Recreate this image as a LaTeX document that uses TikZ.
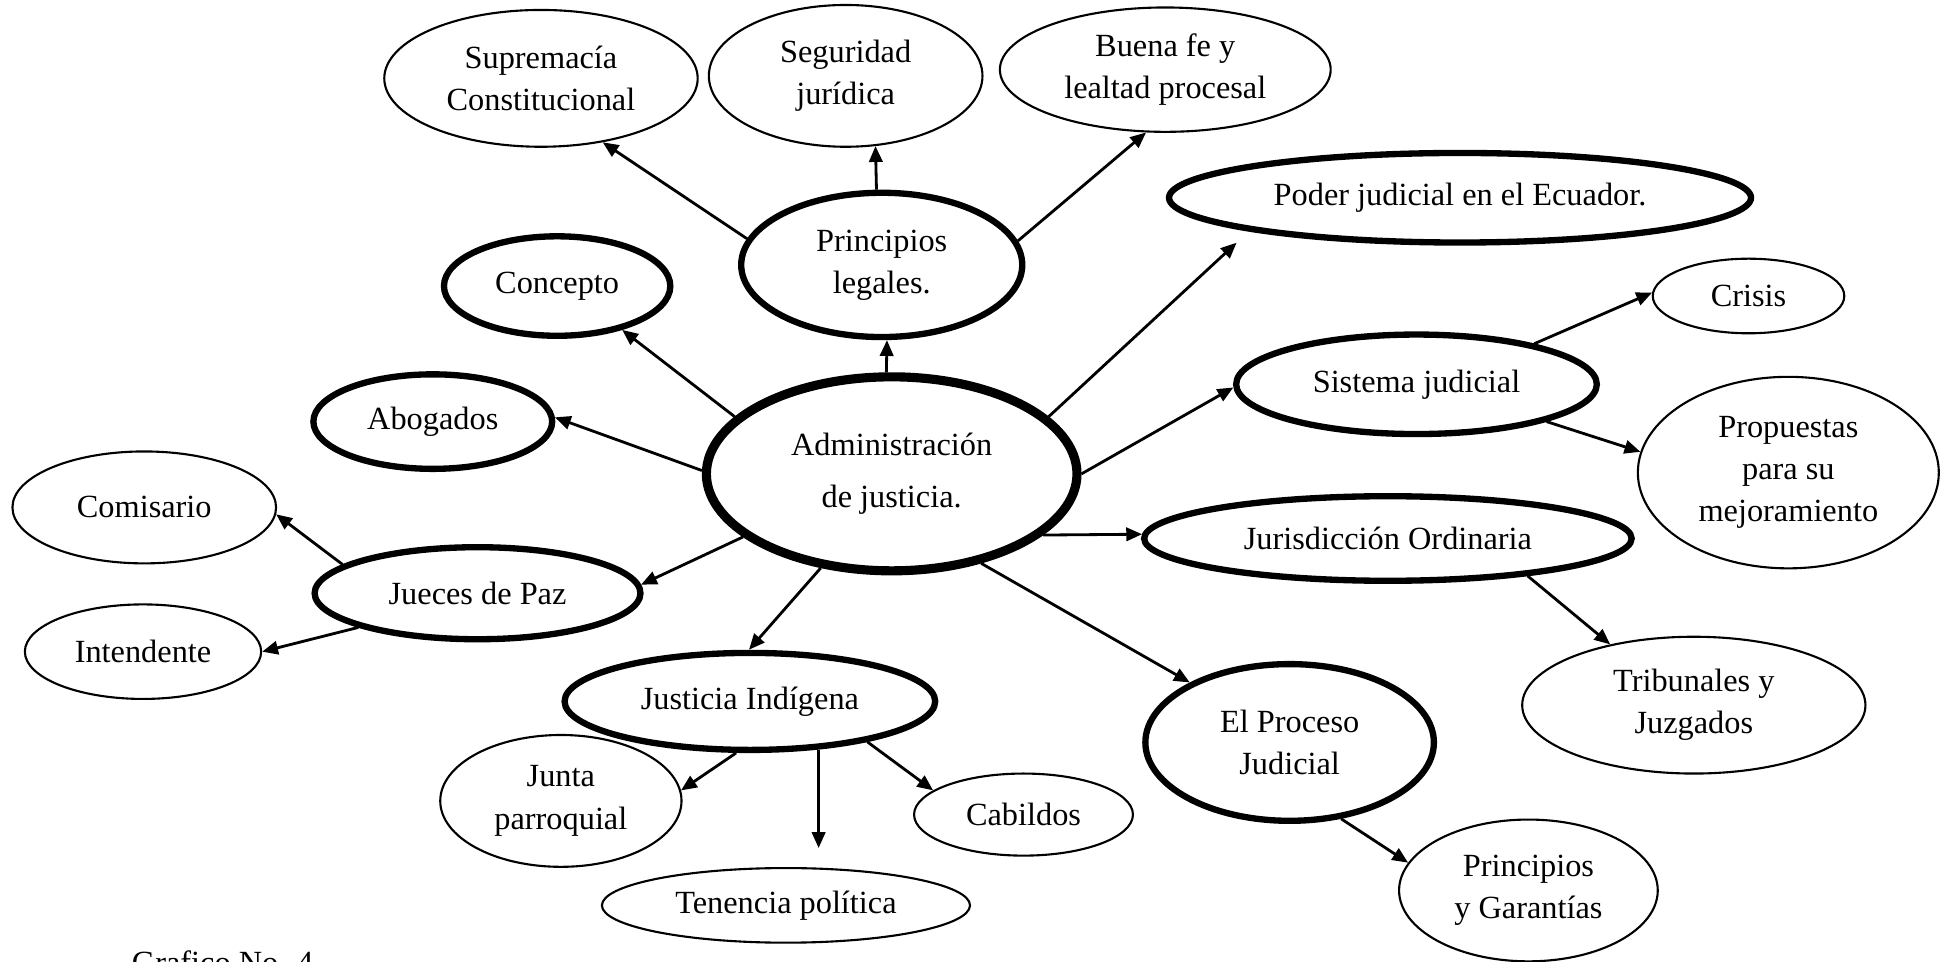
\documentclass[tikz,border=0pt]{standalone}
\usepackage{fontspec}
\setmainfont{Liberation Serif}
\usetikzlibrary{shapes.geometric, arrows.meta}
\tikzset{
    bubble/.style = {ellipse, inner sep=0pt, align=center, draw=black,
        font=\fontsize{9.2}{12}\selectfont},
    leaf/.style = {bubble, line width=0.6pt},
    topic/.style = {bubble, line width=1.8pt},
    root/.style = {bubble, line width=2.6pt},
    ell/.style 2 args = {minimum width=#1*0.024872cm, minimum height=#2*0.024872cm},
}

\begin{document}
\begin{tikzpicture}[x=0.012436cm, y=-0.012436cm, ->, >={Triangle[length=4.5pt,width=3.8pt]}, line width=0.8pt]
    \useasboundingbox (0,0) rectangle (1568,773.5);
    \clip (0,0) rectangle (1568,773.5);
    % centre
    \node[root, ell={149}{78}] (adm) at (717,381) {Administración\\[3pt]de justicia.};
    % upper part
    \node[topic, ell={113}{58}] (pri) at (709,213) {Principios\\legales.};
    \node[leaf, ell={126}{55}] (sup) at (435,63) {Supremacía\\Constitucional};
    \node[leaf, ell={110}{57}] (seg) at (680,61) {Seguridad\\jurídica};
    \node[leaf, ell={133}{50}] (bue) at (937,56) {Buena fe y\\lealtad procesal};
    \node[topic, ell={91}{40}] (con) at (448,230) {Concepto};
    \node[topic, ell={96}{38}] (abo) at (348,339) {Abogados};
    \node[topic, ell={234}{36}] (pod) at (1174,159) {Poder judicial en el Ecuador.};
    % right part
    \node[topic, ell={145}{40}] (sis) at (1139,309) {Sistema judicial};
    \node[leaf, ell={77}{30}] (cri) at (1406,238) {Crisis};
    \node[leaf, ell={121}{77}] (prp) at (1438,380) {Propuestas\\para su\\mejoramiento};
    \node[topic, ell={196}{34}] (jur) at (1116,433) {Jurisdicción Ordinaria};
    \node[leaf, ell={138}{55}] (tri) at (1362,567) {Tribunales y\\Juzgados};
    \node[topic, ell={116}{63}] (pro) at (1037,597) {El Proceso\\Judicial};
    \node[leaf, ell={104}{57}] (gar) at (1229,716) {Principios\\y Garantías};
    % left and lower part
    \node[topic, ell={131}{37}] (jue) at (384,477) {Jueces de Paz};
    \node[leaf, ell={106}{45}] (com) at (116,408) {Comisario};
    \node[leaf, ell={95}{38}] (int) at (115,524) {Intendente};
    \node[topic, ell={149}{39}] (ind) at (603,564) {Justicia Indígena};
    \node[leaf, ell={97}{53}] (jun) at (451,644) {Junta\\parroquial};
    \node[leaf, ell={148}{30}] (ten) at (632,728) {Tenencia política};
    \node[leaf, ell={88}{33}] (cab) at (823,655) {Cabildos};
    \node[anchor=base west, inner sep=0pt, font=\fontsize{9.2}{12}\selectfont] (cap) at (105,783) {Grafico No. 4};

    \draw (adm.93) -- (pri.-86);
    \draw (pri.169) -- (sup.-46);
    \draw (pri.94) -- (seg.-67);
    \draw (pri.10) -- (bue.-107);
    \draw (adm.160) -- (con.-34);
    \draw (adm.179) -- (abo.2);
    \draw[shorten >=0.17cm] (adm.20) -- (pod.-171);
    \draw (adm.0) -- (sis.181);
    \draw (sis.19) -- (cri.178);
    \draw (sis.-16) -- (prp.172);
    \draw (adm.-22) -- (jur.179);
    \draw (jur.-15) -- (tri.144);
    \draw (adm.-45) -- (pro.149);
    \draw (pro.-56) -- (gar.167);
    \draw (adm.-157) -- (jue.3);
    \draw (jue.168) -- (com.-3);
    \draw (jue.-164) -- (int.0);
    \draw (adm.-127) -- (ind.91);
    \draw (ind.-105) -- (jun.5);
    \draw[shorten >=0.19cm] (ind.-35) -- (ind.-35 |- ten.north);
    \draw (ind.-19) -- (cab.165);
\end{tikzpicture}
\end{document}
